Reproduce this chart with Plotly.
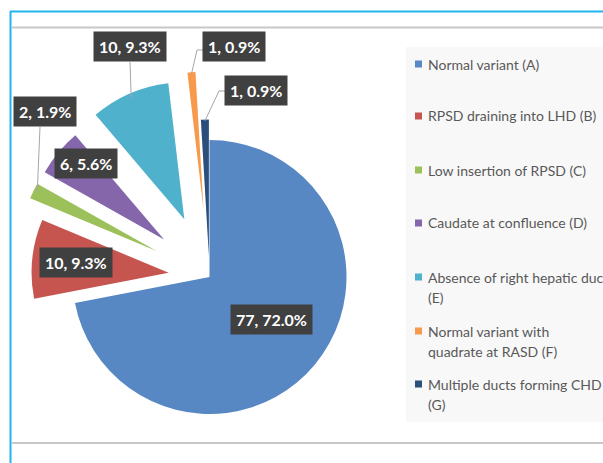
import math
import plotly.graph_objects as go

# ---------------- data ----------------
categories = [
    "Normal variant (A)",
    "RPSD draining into LHD (B)",
    "Low insertion of RPSD (C)",
    "Caudate at confluence (D)",
    "Absence of right hepatic duct (E)",
    "Normal variant with quadrate at RASD (F)",
    "Multiple ducts forming CHD (G)",
]
legend_lines = [
    ["Normal variant (A)"],
    ["RPSD draining into LHD (B)"],
    ["Low insertion of RPSD (C)"],
    ["Caudate at confluence (D)"],
    ["Absence of right hepatic duct", "(E)"],
    ["Normal variant with", "quadrate at RASD (F)"],
    ["Multiple ducts forming CHD", "(G)"],
]
counts = [77, 10, 2, 6, 10, 1, 1]

# ---------------- styles / layout ----------------
colors = ["#5888C4", "#C6544F", "#9CC05A", "#8566AA", "#4FB1CB", "#F79A4C", "#2B4E7A"]
pulls = [0.0, 0.30, 0.43, 0.43, 0.46, 0.50, 0.15]

W, HF = 603, 500   # figure size (bottom part falls outside the 463px window)
CX, CY, R = 209.5, 277.0, 137.0   # on-screen pie centre / radius
half = R * (1 + max(pulls))

dom_x = [max(0.0, (CX - half) / W), (CX + half) / W]
dom_y = [1 - (CY + half) / HF, 1 - (CY - half) / HF]

def px_x(x):
    return x / W

def px_y(y):
    return 1 - y / HF

total = sum(counts)
label_texts = [f"{v}, {v / total * 100:.1f}%" for v in counts]

fig = go.Figure()
fig.add_trace(go.Pie(
    labels=categories,
    values=counts,
    sort=False,
    direction="clockwise",
    rotation=0,
    pull=pulls,
    marker=dict(colors=colors, line=dict(width=0)),
    textinfo="none",
    showlegend=False,
    domain=dict(x=dom_x, y=dom_y),
))

shapes = []
annotations = []
RIGHT = W + 5

# frame
shapes.append(dict(type="line", xref="paper", yref="paper", x0=px_x(10), x1=px_x(RIGHT),
                   y0=px_y(11.5), y1=px_y(11.5), line=dict(color="#22B4EC", width=2)))
shapes.append(dict(type="line", xref="paper", yref="paper", x0=px_x(10.5), x1=px_x(10.5),
                   y0=px_y(11), y1=px_y(HF), line=dict(color="#22B4EC", width=2)))
shapes.append(dict(type="line", xref="paper", yref="paper", x0=px_x(12), x1=px_x(RIGHT),
                   y0=px_y(27.5), y1=px_y(27.5), line=dict(color="#C8C8C8", width=2)))
shapes.append(dict(type="line", xref="paper", yref="paper", x0=px_x(12), x1=px_x(RIGHT),
                   y0=px_y(443), y1=px_y(443), line=dict(color="#C8C8C8", width=2)))

# legend box
shapes.append(dict(type="rect", xref="paper", yref="paper", x0=px_x(406), x1=px_x(RIGHT),
                   y0=px_y(422), y1=px_y(47), fillcolor="#F8F8F8", line=dict(width=0),
                   layer="below"))
leg_y = [64, 116, 170, 223, 277, 331, 384]
for i, lines in enumerate(legend_lines):
    y = leg_y[i]
    shapes.append(dict(type="rect", xref="paper", yref="paper", x0=px_x(415), x1=px_x(422),
                       y0=px_y(y + 3.5), y1=px_y(y - 3.5), fillcolor=colors[i], line=dict(width=0)))
    for j, t in enumerate(lines):
        annotations.append(dict(text=t, xref="paper", yref="paper", x=px_x(426), y=px_y(y + 20 * j),
                                xanchor="left", yanchor="middle", showarrow=False,
                                font=dict(family="Lato", size=14, color="#595959")))

# slice geometry (same as plotly pie layout)
angles = []
cum = 0
for v in counts:
    a0 = cum / total * 2 * math.pi
    cum += v
    a1 = cum / total * 2 * math.pi
    angles.append((a0 + a1) / 2)

def outer_mid(i, frac=1.0):
    a = angles[i]
    dx, dy = math.sin(a), -math.cos(a)
    d = pulls[i] * R + frac * R
    return CX + d * dx, CY + d * dy

# data labels (on-screen pixel centres)
label_pos = [(271, 319), (76, 262), (45, 112), (86, 163), (130, 47), (234, 47), (256, 91)]
for i, (x, y) in enumerate(label_pos):
    annotations.append(dict(text=f"<b>{label_texts[i]}</b>", xref="paper", yref="paper",
                            x=px_x(x), y=px_y(y), xanchor="center", yanchor="middle",
                            showarrow=False, bgcolor="#404040", borderpad=5,
                            font=dict(family="Lato", size=16, color="white")))

# leader lines
def path(pts):
    s = "M " + " L ".join(f"{px_x(x)},{px_y(y)}" for x, y in pts)
    return dict(type="path", xref="paper", yref="paper", path=s,
                line=dict(color="#A6A6A6", width=1))

ex, ey = outer_mid(4, 0.97)
shapes.append(path([(130, 62), (ex, ey)]))
fx, fy = outer_mid(5, 0.99)
shapes.append(path([(203, 50), (197, 50), (fx, fy)]))
gx, gy = outer_mid(6, 0.99)
shapes.append(path([(225, 91), (219, 91), (gx, gy)]))
cx_, cy_ = outer_mid(2, 0.97)
shapes.append(path([(40, 127), (cx_, cy_)]))

fig.update_layout(
    width=W, height=HF,
    margin=dict(l=0, r=0, t=0, b=0),
    paper_bgcolor="white",
    plot_bgcolor="white",
    shapes=shapes,
    annotations=annotations,
    showlegend=False,
)

fig.write_html(
    "out.html",
    config={"displayModeBar": False},
    post_script=(
        "document.body.style.margin='0px';"
        "document.body.style.overflow='hidden';"
        "document.documentElement.style.overflow='hidden';"
    ),
)
